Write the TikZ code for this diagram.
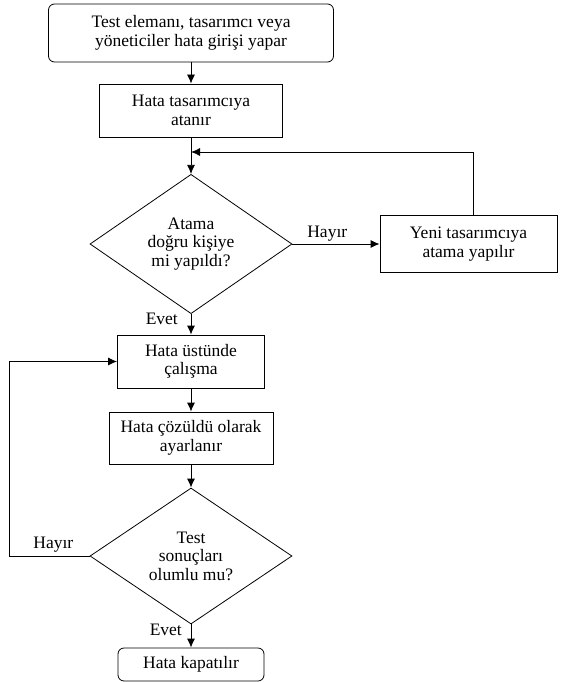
\documentclass[tikz,border=0pt]{standalone}
\usepackage{fontspec}
\setmainfont{Liberation Serif}
\usetikzlibrary{shapes.geometric,arrows.meta}

\tikzset{
  box/.style={draw, line width=0.8pt, rectangle, inner sep=0pt, align=center},
  rbox/.style={box, rounded corners=6pt},
  decide/.style={draw, line width=0.8pt, diamond, inner sep=0pt, align=center},
  arr/.style={line width=0.8pt, -{Latex[length=9pt,width=8pt]}},
  lbl/.style={inner sep=0.75pt}
}

\begin{document}
\begin{tikzpicture}[x=1pt,y=1pt,yscale=-1,font=\fontsize{17.5}{18.5}\selectfont]
\useasboundingbox (0,0) rectangle (560,682);

% Boxes
\node [rbox, minimum width=285, minimum height=58] (start) at (191,33) {Test elemanı, tasarımcı veya\\yöneticiler hata girişi yapar};
\node [box, minimum width=183, minimum height=53] (assign) at (191,110.5) {Hata tasarımcıya\\atanır};
\node [decide, minimum width=202, minimum height=136] (check1) at (191,244) {Atama\\doğru kişiye\\mi yapıldı?};
\node [box, minimum width=177, minimum height=57] (newdes) at (468.5,244) {Yeni tasarımcıya\\atama yapılır};
\node [box, minimum width=147, minimum height=53] (work) at (191,361.5) {Hata üstünde\\çalışma};
\node [box, minimum width=164, minimum height=52] (solved) at (191,438) {Hata çözüldü olarak\\ayarlanır};
\node [decide, minimum width=202, minimum height=136] (check2) at (191,556) {Test\\sonuçları\\olumlu mu?};
\node [rbox, minimum width=146, minimum height=33] (close) at (191,664.5) {Hata kapatılır};

% Helper points
\coordinate (join) at (191,152);
\coordinate (upr) at (473,152);
\coordinate (lft) at (9,556);

% Connectors
\draw [arr] (start) -- (assign);
\draw [arr] (assign) -- (check1);
\draw [arr] (check1.east) -- node [lbl, pos=0.4, above=2pt] {Hayır} (newdes.west);
\draw [arr] (newdes.north -| upr) -- (upr) -- (join);
\draw [arr] (check1.south) -- (work.north) node [lbl, pos=0.25, left=12pt] {Evet};
\draw [arr] (work) -- (solved);
\draw [arr] (solved) -- (check2);
\draw [arr] (check2.west) -- node [lbl, pos=0.45, above=3pt] {Hayır} (lft) |- (work.west);
\draw [arr] (check2.south) -- (close.north) node [lbl, pos=0.25, left=8pt] {Evet};

\end{tikzpicture}
\end{document}
